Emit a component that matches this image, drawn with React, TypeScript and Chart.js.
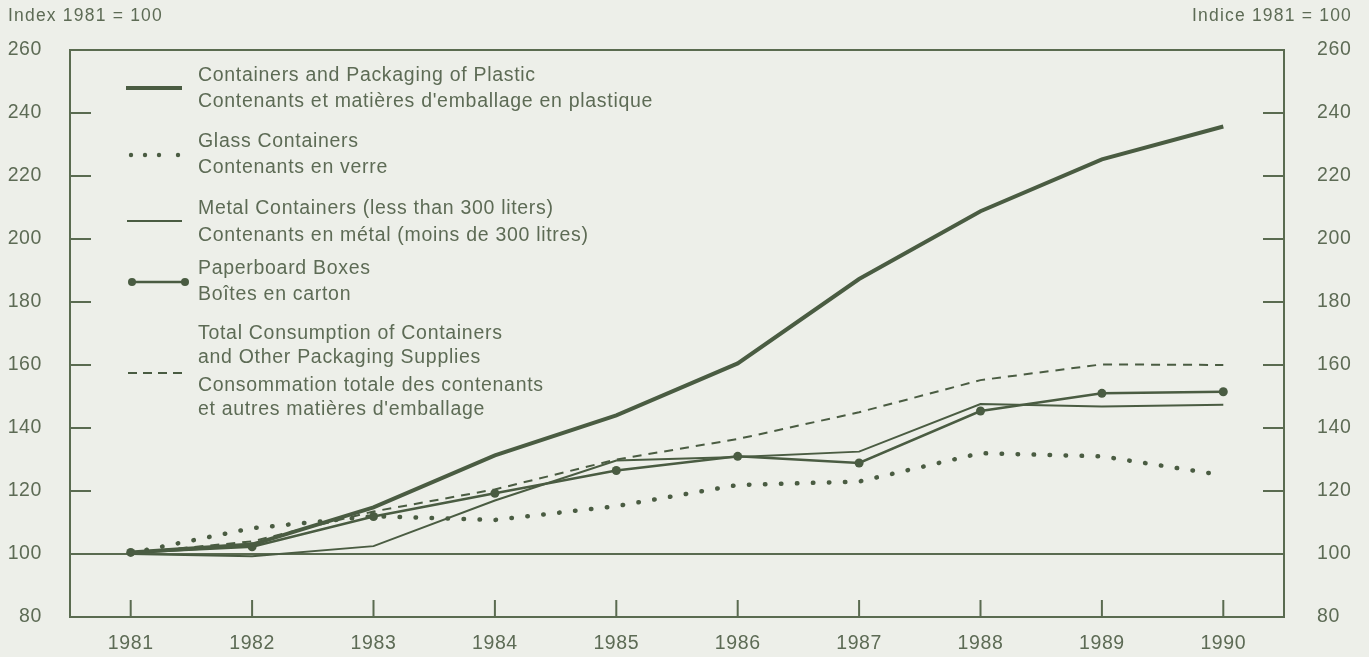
import React, { useEffect, useRef } from "react";
import { Chart, registerables } from "chart.js";

Chart.register(...registerables);

const YEARS = ["1981", "1982", "1983", "1984", "1985", "1986", "1987", "1988", "1989", "1990"];
const PLASTIC = [100.5, 103, 114.8, 131.3, 144, 160.5, 187.3, 208.8, 225.3, 235.7];
const GLASS = [100.3, 108.2, 112, 110.8, 115.2, 121.9, 123, 132, 131, 125];
const METAL = [100, 99.3, 102.5, 117, 129.7, 130.8, 132.5, 147.6, 146.8, 147.4];
const PAPERBOARD = [100.5, 102.3, 111.9, 119.3, 126.5, 131, 128.9, 145.4, 151, 151.5];
const TOTAL = [100.3, 104, 113.5, 120.5, 130, 136.5, 145, 155.2, 160.2, 160];

const Y_MIN = 80;
const Y_MAX = 260;
const Y_STEP = 20;
const BASE = 100;

const LEFT_TITLE = "Index 1981 = 100";
const RIGHT_TITLE = "Indice 1981 = 100";

const LEGEND_PLASTIC = ["Containers and Packaging of Plastic", "Contenants et matières d'emballage en plastique"];
const LEGEND_GLASS = ["Glass Containers", "Contenants en verre"];
const LEGEND_METAL = ["Metal Containers (less than 300 liters)", "Contenants en métal (moins de 300 litres)"];
const LEGEND_PAPER = ["Paperboard Boxes", "Boîtes en carton"];
const LEGEND_TOTAL = [
  "Total Consumption of Containers",
  "and Other Packaging Supplies",
  "Consommation totale des contenants",
  "et autres matières d'emballage",
];

const BG = "#edefe9";
const LINE = "#4a5c42";
const AXIS = "#5a6b50";
const TEXT = "#5d6b55";
const FONT_FAMILY = "'Liberation Sans', Arial, Helvetica, sans-serif";
const FONT_SIZE = 19.5;

const framePlugin = {
  id: "frame",
  beforeDraw(chart: any) {
    chart.ctx.letterSpacing = "0.6px";
  },
  beforeDatasetsDraw(chart: any) {
    const { ctx, chartArea: a, scales } = chart;
    const y = scales.y;
    const x = scales.x;
    ctx.save();
    ctx.strokeStyle = AXIS;
    ctx.lineWidth = 2;
    ctx.lineCap = "butt";
    ctx.strokeRect(a.left, a.top, a.right - a.left, a.bottom - a.top);
    const y100 = y.getPixelForValue(BASE);
    ctx.beginPath();
    ctx.moveTo(a.left, y100);
    ctx.lineTo(a.right, y100);
    ctx.stroke();
    ctx.beginPath();
    y.ticks.forEach((t: any) => {
      if (t.value <= Y_MIN || t.value >= Y_MAX) return;
      const py = y.getPixelForValue(t.value);
      ctx.moveTo(a.left, py);
      ctx.lineTo(a.left + 21, py);
      ctx.moveTo(a.right - 21, py);
      ctx.lineTo(a.right, py);
    });
    x.ticks.forEach((_t: any, i: number) => {
      const px = x.getPixelForTick(i);
      ctx.moveTo(px, a.bottom);
      ctx.lineTo(px, a.bottom - 17);
    });
    ctx.stroke();
    ctx.restore();
  },
  afterDraw(chart: any) {
    const { ctx } = chart;
    ctx.save();
    ctx.fillStyle = TEXT;
    ctx.textBaseline = "middle";
    ctx.letterSpacing = "1.2px";
    ctx.font = `17.5px ${FONT_FAMILY}`;
    ctx.textAlign = "left";
    ctx.fillText(LEFT_TITLE, 8, 16);
    ctx.textAlign = "right";
    ctx.fillText(RIGHT_TITLE, 1352, 16);

    ctx.letterSpacing = "0.7px";
    ctx.font = `${FONT_SIZE}px ${FONT_FAMILY}`;
    ctx.textAlign = "left";
    const tx = 198;
    const drawLines = (lines: string[], ys: number[]) => {
      lines.forEach((s, i) => ctx.fillText(s, tx, ys[i]));
    };
    drawLines(LEGEND_PLASTIC, [76, 102]);
    drawLines(LEGEND_GLASS, [142, 168]);
    drawLines(LEGEND_METAL, [209, 236]);
    drawLines(LEGEND_PAPER, [269, 295]);
    drawLines(LEGEND_TOTAL, [334, 358, 386, 410]);

    ctx.strokeStyle = LINE;
    ctx.fillStyle = LINE;
    // plastic sample
    ctx.lineWidth = 4;
    ctx.beginPath();
    ctx.moveTo(126, 88);
    ctx.lineTo(182, 88);
    ctx.stroke();
    // glass sample
    [131, 145, 159, 178].forEach((dx) => {
      ctx.beginPath();
      ctx.arc(dx, 155, 2.2, 0, Math.PI * 2);
      ctx.fill();
    });
    // metal sample
    ctx.lineWidth = 2;
    ctx.beginPath();
    ctx.moveTo(127, 221);
    ctx.lineTo(182, 221);
    ctx.stroke();
    // paperboard sample
    ctx.lineWidth = 2.5;
    ctx.beginPath();
    ctx.moveTo(132, 282);
    ctx.lineTo(185, 282);
    ctx.stroke();
    [132, 185].forEach((dx) => {
      ctx.beginPath();
      ctx.arc(dx, 282, 4, 0, Math.PI * 2);
      ctx.fill();
    });
    // total sample
    ctx.lineWidth = 2;
    ctx.setLineDash([9, 6]);
    ctx.beginPath();
    ctx.moveTo(128, 373);
    ctx.lineTo(186, 373);
    ctx.stroke();
    ctx.setLineDash([]);
    ctx.restore();
  },
};

const noPad = (s: any) => {
  s.paddingTop = 0;
  s.paddingBottom = 0;
  s.paddingLeft = 0;
  s.paddingRight = 0;
};

export default function App() {
  const canvasRef = useRef<HTMLCanvasElement | null>(null);

  useEffect(() => {
    document.body.style.margin = "0";
    document.body.style.background = BG;
    const canvas = canvasRef.current;
    if (!canvas) return;
    const tickFont = { family: FONT_FAMILY, size: FONT_SIZE };
    const chart = new Chart(canvas, {
      type: "line",
      data: {
        labels: YEARS,
        datasets: [
          {
            label: LEGEND_PLASTIC[0],
            data: PLASTIC,
            borderColor: LINE,
            borderWidth: 4,
            pointRadius: 0,
            tension: 0,
            yAxisID: "y",
          },
          {
            label: LEGEND_GLASS[0],
            data: GLASS,
            borderColor: LINE,
            borderWidth: 4.5,
            borderDash: [0.5, 15.5],
            borderCapStyle: "round",
            pointRadius: 0,
            tension: 0,
            yAxisID: "y",
          },
          {
            label: LEGEND_METAL[0],
            data: METAL,
            borderColor: LINE,
            borderWidth: 2,
            pointRadius: 0,
            tension: 0,
            yAxisID: "y",
          },
          {
            label: LEGEND_PAPER[0],
            data: PAPERBOARD,
            borderColor: LINE,
            backgroundColor: LINE,
            borderWidth: 2.5,
            pointRadius: 4.5,
            pointBorderWidth: 0,
            pointBackgroundColor: LINE,
            tension: 0,
            yAxisID: "y",
          },
          {
            label: LEGEND_TOTAL[0],
            data: TOTAL,
            borderColor: LINE,
            borderWidth: 2,
            borderDash: [9, 7],
            pointRadius: 0,
            tension: 0,
            yAxisID: "y",
          },
        ],
      },
      options: {
        responsive: true,
        maintainAspectRatio: false,
        animation: false,
        layout: { padding: { top: 50, left: 0, right: 0, bottom: 0 } },
        plugins: {
          legend: { display: false },
          tooltip: { enabled: false },
          title: { display: false },
        },
        scales: {
          x: {
            type: "category",
            offset: true,
            grid: { display: false, drawTicks: false },
            border: { display: false },
            ticks: { font: tickFont, color: TEXT, padding: 15, maxRotation: 0, autoSkip: false },
            afterFit: (s: any) => {
              s.height = 40;
              noPad(s);
            },
          },
          y: {
            position: "left",
            min: Y_MIN,
            max: Y_MAX,
            grid: { display: false, drawTicks: false },
            border: { display: false },
            ticks: { stepSize: Y_STEP, font: tickFont, color: TEXT, padding: 28 },
            afterFit: (s: any) => {
              s.width = 70;
              noPad(s);
            },
          },
          y2: {
            position: "right",
            min: Y_MIN,
            max: Y_MAX,
            grid: { display: false, drawTicks: false },
            border: { display: false },
            ticks: { stepSize: Y_STEP, font: tickFont, color: TEXT, padding: 33 },
            afterFit: (s: any) => {
              s.width = 85;
              noPad(s);
            },
          },
        },
      },
      plugins: [framePlugin],
    } as any);
    return () => chart.destroy();
  }, []);

  return (
    <div style={{ position: "relative", width: 1369, height: 657, background: BG }}>
      <canvas ref={canvasRef} />
    </div>
  );
}
